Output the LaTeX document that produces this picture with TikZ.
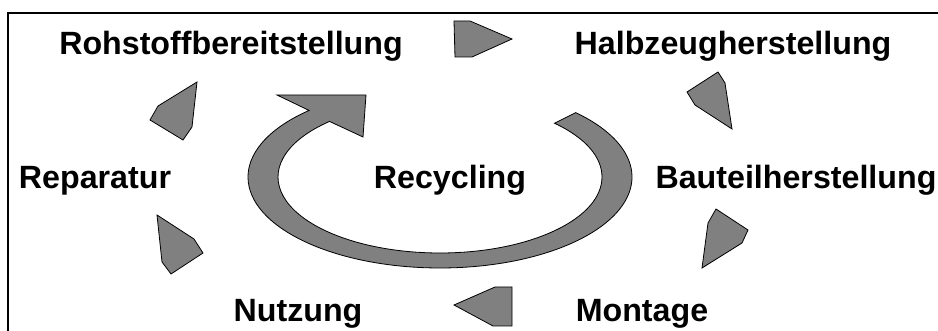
\documentclass[tikz,border=0pt]{standalone}
\usepackage{fontspec}
\setmainfont{Liberation Sans}
\usetikzlibrary{calc}
\definecolor{arrowgray}{HTML}{808080}
\begin{document}
\begin{tikzpicture}[x=1pt,y=1pt,
  lbl/.style={font=\bfseries\fontsize{32.2}{38}\selectfont, anchor=base, inner sep=0pt},
  blockarrow/.style={draw=black, line width=0.8pt, fill=arrowgray, line join=miter}]
\useasboundingbox (0,0) rectangle (938,331);
% frame
\draw[line width=1.3pt] (8,-2) -- (8,318) -- (940,318);
% labels
\node[lbl] (roh) at (231,276) {Rohstoffbereitstellung};
\node[lbl] (halb) at (733,276) {Halbzeugherstellung};
\node[lbl] (rep) at (95,142) {Reparatur};
\node[lbl] (rec) at (450,142) {Recycling};
\node[lbl] (bau) at (796,142) {Bauteilherstellung};
\node[lbl] (nutz) at (298,9) {Nutzung};
\node[lbl] (mont) at (642,9) {Montage};
% small block arrows
\draw[blockarrow] (454,310) -- (470,310) -- (512,292) -- (472,274) -- (455,274) -- cycle;
\draw[blockarrow] (718,259) -- (725,248) -- (732,202) -- (695,226) -- (687,239) -- cycle;
\draw[blockarrow] (716,122) -- (748,101) -- (742,88) -- (702,63) -- (708,108) -- cycle;
\draw[blockarrow] (454,26) -- (495,44) -- (512,44) -- (512,5) -- (493,5) -- cycle;
\draw[blockarrow] (157,116) -- (194,92) -- (203,78) -- (171,57) -- (162,69) -- cycle;
\draw[blockarrow] (197,249) -- (192,204) -- (183,191) -- (150,211) -- (158,225) -- cycle;
% recycling ring arrow
\coordinate (c) at (440,154);
\coordinate (os) at ($(c)+(133:192 and 91)$);
\coordinate (ie) at ($(c)+(45:162 and 76)$);
\draw[blockarrow]
  (os) arc[start angle=133, end angle=405, x radius=192, y radius=91]
  -- (ie)
  arc[start angle=405, end angle=133, x radius=162, y radius=76]
  -- (363,194) -- (366,236) -- (277,236) -- cycle;
\end{tikzpicture}
\end{document}
